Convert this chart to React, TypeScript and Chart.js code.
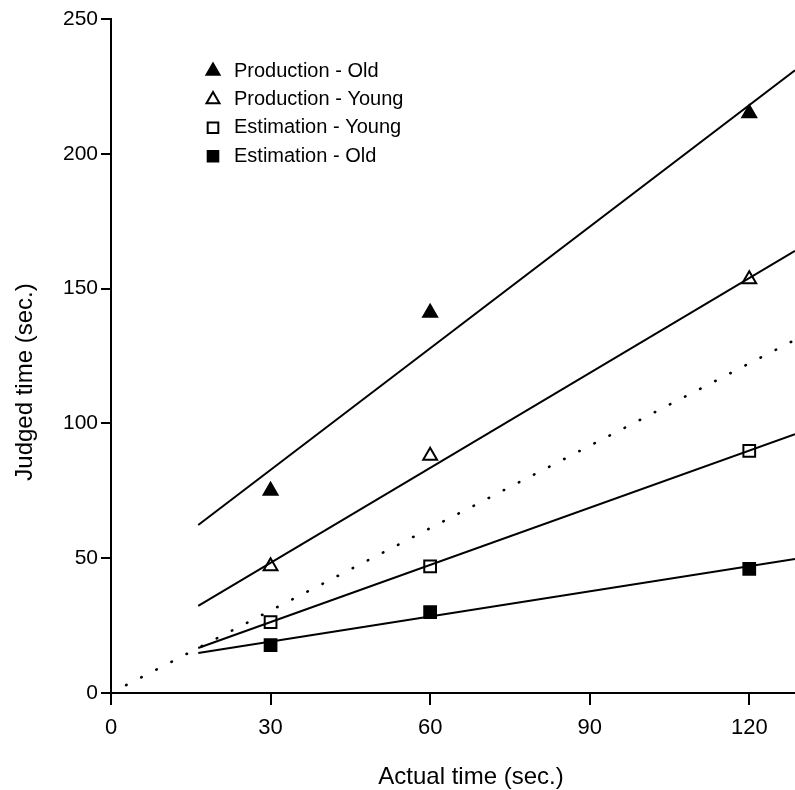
import React, { useEffect, useRef } from "react";
import { Chart, registerables } from "chart.js";

Chart.register(...registerables);

// ---- data ----
const xTickValues = [0, 30, 60, 90, 120];
const yTickStep = 50;
const xMax = 128.6;
const yMax = 250;

const actualTimes = [30, 60, 120];
const productionOld = [75, 141, 215];
const productionYoung = [47, 88, 153.5];
const estimationYoung = [26.3, 47, 89.8];
const estimationOld = [17.8, 30, 46];

// fitted lines: endpoints
const fitX = [16.4, 128.6];
const fitProductionOld = [62.3, 231];
const fitProductionYoung = [32.3, 164];
const fitEstimationYoung = [16.7, 96];
const fitEstimationOld = [14.8, 49.7];
const identityX = [0, 128.6];
const identityY = [0, 131];

const legendLabels = [
  "Production - Old",
  "Production - Young",
  "Estimation - Young",
  "Estimation - Old",
];

const xTitle = "Actual time (sec.)";
const yTitle = "Judged time (sec.)";

const FONT = '"Liberation Sans", Arial, sans-serif';

type Marker = { label: string; shape: "triangle" | "rect"; filled: boolean };

const markers: Marker[] = [
  { label: legendLabels[0], shape: "triangle", filled: true },
  { label: legendLabels[1], shape: "triangle", filled: false },
  { label: legendLabels[2], shape: "rect", filled: false },
  { label: legendLabels[3], shape: "rect", filled: true },
];

const seriesValues = [productionOld, productionYoung, estimationYoung, estimationOld];
const fitValues = [fitProductionOld, fitProductionYoung, fitEstimationYoung, fitEstimationOld];

function drawMarker(ctx: CanvasRenderingContext2D, m: Marker, x: number, y: number, r: number) {
  ctx.save();
  ctx.beginPath();
  if (m.shape === "triangle") {
    ctx.moveTo(x, y - r);
    ctx.lineTo(x + r * 0.866, y + r * 0.5);
    ctx.lineTo(x - r * 0.866, y + r * 0.5);
    ctx.closePath();
  } else {
    const s = r * Math.SQRT1_2;
    ctx.rect(x - s, y - s, 2 * s, 2 * s);
  }
  ctx.lineWidth = 2;
  ctx.strokeStyle = "#000";
  ctx.fillStyle = "#000";
  if (m.filled) ctx.fill();
  ctx.stroke();
  ctx.restore();
}

const legendPlugin = {
  id: "customLegend",
  afterDraw(chart: any) {
    const ctx: CanvasRenderingContext2D = chart.ctx;
    const { left, top } = chart.chartArea;
    ctx.save();
    ctx.font = `20px ${FONT}`;
    ctx.fillStyle = "#000";
    ctx.textBaseline = "middle";
    ctx.textAlign = "left";
    markers.forEach((m, i) => {
      const y = top + 52 + i * 28.4;
      drawMarker(ctx, m, left + 102, y, 7.5);
      ctx.fillText(m.label, left + 123, y);
    });
    ctx.restore();
  },
};

const titlePlugin = {
  id: "axisTitles",
  afterDraw(chart: any) {
    const ctx: CanvasRenderingContext2D = chart.ctx;
    const { left, right, top, bottom } = chart.chartArea;
    ctx.save();
    ctx.fillStyle = "#000";
    ctx.font = `24px ${FONT}`;
    ctx.textAlign = "center";
    ctx.textBaseline = "middle";
    ctx.fillText(xTitle, (left + right) / 2 + 18, bottom + 84);
    ctx.translate(25, (top + bottom) / 2 + 26);
    ctx.rotate(-Math.PI / 2);
    ctx.fillText(yTitle, 0, 0);
    ctx.restore();
  },
};

export default function App() {
  const ref = useRef<HTMLCanvasElement | null>(null);

  useEffect(() => {
    if (!ref.current) return;
    const fitDatasets = fitValues.map((ys, i) => ({
      type: "line" as const,
      label: "fit " + legendLabels[i],
      data: fitX.map((x, j) => ({ x, y: ys[j] })),
      borderColor: "#000",
      borderWidth: 2,
      pointRadius: 0,
      fill: false,
      tension: 0,
    }));
    const identity = {
      type: "line" as const,
      label: "identity",
      data: identityX.map((x, j) => ({ x, y: identityY[j] })),
      borderColor: "#000",
      borderWidth: 2.6,
      borderDash: [0.5, 16.5],
      borderCapStyle: "round" as const,
      pointRadius: 0,
      fill: false,
    };
    const pointDatasets = markers.map((m, i) => ({
      type: "scatter" as const,
      label: m.label,
      data: actualTimes.map((x, j) => ({ x, y: seriesValues[i][j] })),
      pointStyle: m.shape,
      pointRadius: m.shape === "triangle" ? 8 : 8.3,
      pointBackgroundColor: m.filled ? "#000" : "rgba(0,0,0,0)",
      pointBorderColor: "#000",
      pointBorderWidth: 2,
      showLine: false,
    }));

    const chart = new Chart(ref.current, {
      type: "scatter",
      data: { datasets: [...fitDatasets, identity, ...pointDatasets] as any },
      options: {
        animation: false,
        responsive: false,
        events: [],
        layout: { autoPadding: false, padding: { top: 19, right: 0, left: 0, bottom: 0 } },
        plugins: {
          legend: { display: false },
          tooltip: { enabled: false },
        },
        scales: {
          x: {
            type: "linear",
            min: 0,
            max: xMax,
            afterBuildTicks: (axis: any) => {
              axis.ticks = xTickValues.map((v) => ({ value: v }));
            },
            afterFit: (axis: any) => {
              axis.height = 97;
              axis.paddingRight = 0;
              axis.paddingLeft = 0;
            },
            grid: {
              display: true,
              drawOnChartArea: false,
              drawTicks: true,
              tickLength: 12,
              color: "#000",
              lineWidth: 2,
            },
            border: { display: true, color: "#000", width: 2 },
            ticks: {
              color: "#000",
              padding: 10,
              maxRotation: 0,
              font: { family: FONT, size: 22 },
            },
          },
          y: {
            type: "linear",
            min: 0,
            max: yMax,
            afterFit: (axis: any) => {
              axis.width = 111;
            },
            grid: {
              display: true,
              drawOnChartArea: false,
              drawTicks: true,
              tickLength: 10,
              color: "#000",
              lineWidth: 2,
            },
            border: { display: true, color: "#000", width: 2 },
            ticks: {
              stepSize: yTickStep,
              color: "#000",
              padding: 3,
              font: { family: FONT, size: 21 },
            },
          },
        },
      },
      plugins: [legendPlugin, titlePlugin],
    });
    return () => chart.destroy();
  }, []);

  return (
    <div
      style={{
        position: "absolute",
        left: 0,
        top: 0,
        width: 795,
        height: 790,
        overflow: "hidden",
        background: "#fff",
      }}
    >
      <canvas ref={ref} width={795} height={790} style={{ display: "block" }} />
    </div>
  );
}
